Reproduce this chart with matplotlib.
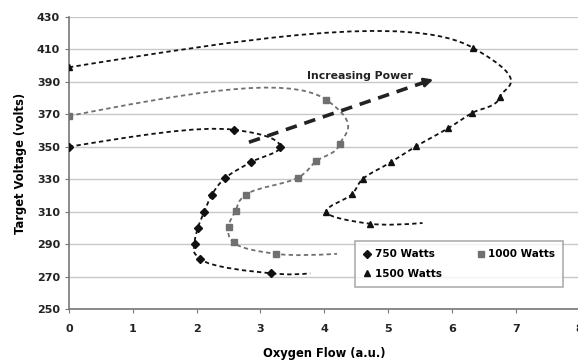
import numpy as np
import matplotlib.pyplot as plt
from matplotlib.path import Path
from matplotlib.patches import PathPatch
from matplotlib.lines import Line2D

plt.rcParams['font.family'] = ['DejaVu Sans']
plt.rcParams['font.weight'] = 'bold'

# oxygen flow / target voltage
flow_750 = [0, 2.58, 3.31, 2.85, 2.44, 2.24, 2.12, 2.02, 1.97, 2.05, 3.17, 3.78]
volt_750 = [350, 360.5, 350, 340.5, 330.5, 320.5, 310, 300, 290, 281, 272, 272]
flow_1000 = [0, 4.03, 4.24, 3.87, 3.59, 2.77, 2.61, 2.5, 2.58, 3.25, 4.2]
volt_1000 = [369, 379, 351.5, 341, 331, 320.5, 310.5, 300.5, 291, 284, 284]
flow_1500 = [0, 6.33, 6.75, 6.31, 5.94, 5.44, 5.04, 4.6, 4.43, 4.03, 4.71, 5.54]
volt_1500 = [399, 411, 380.6, 370.7, 361.4, 350.3, 340.4, 330, 320.6, 310, 302.6, 303]

series = [
    ('750 Watts', flow_750, volt_750, 'D', '#111111'),
    ('1000 Watts', flow_1000, volt_1000, 's', '#707070'),
    ('1500 Watts', flow_1500, volt_1500, '^', '#111111'),
]

x_ticks = [0, 1, 2, 3, 4, 5, 6, 7, 8]
y_ticks = [250, 270, 290, 310, 330, 350, 370, 390, 410, 430]

# pixels per data unit, so the smoothing is done in screen proportions
SX, SY = 64.3, 1.615


def unit(v):
    return v / np.hypot(v[0], v[1])


def smooth_path(xs, ys):
    # excel-like smoothed line built from cubic bezier segments
    p = np.column_stack([np.array(xs) * SX, np.array(ys) * SY])
    n = len(p)
    tang = [None] * n
    for i in range(1, n - 1):
        d = unit(unit(p[i] - p[i - 1]) + unit(p[i + 1] - p[i]))
        tang[i] = d * np.hypot(*(p[i + 1] - p[i - 1])) / 6
    verts = [p[0]]
    codes = [Path.MOVETO]
    for i in range(n - 1):
        c1 = p[i] + tang[i] if tang[i] is not None else None
        c2 = p[i + 1] - tang[i + 1] if tang[i + 1] is not None else None
        if c1 is None and c2 is None:
            c1 = p[i] + (p[i + 1] - p[i]) / 3
            c2 = p[i] + 2 * (p[i + 1] - p[i]) / 3
        elif c1 is None:
            c1 = (p[i] + c2) / 2
        elif c2 is None:
            c2 = (p[i + 1] + c1) / 2
        verts += [c1, c2, p[i + 1]]
        codes += [Path.CURVE4] * 3
    verts = np.array(verts) / [SX, SY]
    return Path(verts, codes)


fig = plt.figure(figsize=(5.78, 3.61), dpi=100)
ax = fig.add_axes([69 / 578, 52 / 361, 510.5 / 578, 292 / 361])

handles = []
for label, xs, ys, mk, col in series:
    ax.add_patch(PathPatch(smooth_path(xs, ys), fill=False, edgecolor=col,
                           lw=1.3, linestyle=(0, (2.4, 1.8)), zorder=3))
    ms = 3.8 if mk == 'D' else 4.5
    # last point is the unmarked tail of the line
    ax.plot(xs[:-1], ys[:-1], linestyle='none', marker=mk, ms=ms, color=col, zorder=4)
    handles.append(Line2D([], [], linestyle='none', marker=mk, ms=ms, color=col, label=label))

# increasing power arrow
ax.plot([2.82, 5.55], [352.8, 389.5], color='#222222', lw=2.6,
        linestyle=(0, (3.2, 2.2)), zorder=5)
ax.annotate('', xy=(5.75, 392), xytext=(5.45, 388.3),
            arrowprops=dict(arrowstyle='-|>', color='#222222', lw=2, mutation_scale=13),
            zorder=5)
ax.text(4.56, 393.5, 'Increasing Power', fontsize=7.8, fontweight='bold',
        ha='center', va='center', color='#222222')

ax.set_xlim(0, 8)
ax.set_ylim(250, 430)
ax.set_xticks(x_ticks)
ax.set_yticks(y_ticks)
ax.tick_params(labelsize=8, length=3, color='#777777', colors='#222222')
ax.tick_params(axis='x', pad=8)
ax.yaxis.grid(True, color='#c8c8c8', lw=1)
ax.set_axisbelow(True)
for s in ['top', 'right']:
    ax.spines[s].set_visible(False)
for s in ['left', 'bottom']:
    ax.spines[s].set_color('#777777')
    ax.spines[s].set_linewidth(1.2)

ax.set_xlabel('Oxygen Flow (a.u.)', fontsize=8.3, fontweight='bold', labelpad=9)
ax.set_ylabel('Target Voltage (volts)', fontsize=8.3, fontweight='bold', labelpad=7)

leg = ax.legend(handles=[handles[0], handles[2], handles[1]], ncol=2,
                loc='upper left', bbox_to_anchor=(0.56, 0.233, 0.408, 0.0),
                mode='expand', borderaxespad=0, frameon=True, fancybox=False,
                handlelength=0.8, handletextpad=0.3, borderpad=0.8, labelspacing=0.9,
                prop={'weight': 'bold', 'size': 7.5})
leg.get_frame().set_edgecolor('#999999')
leg.get_frame().set_linewidth(1.2)
leg.set_zorder(6)

fig.savefig('out.png', dpi=100)
